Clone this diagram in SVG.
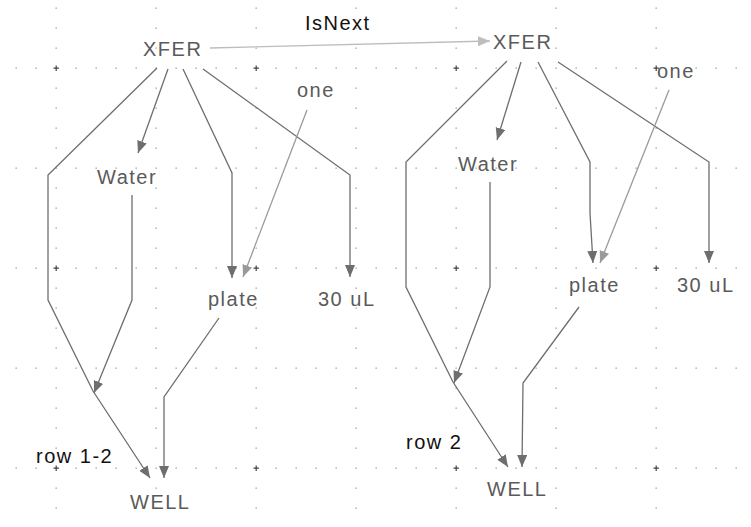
<svg xmlns="http://www.w3.org/2000/svg" width="751" height="527" viewBox="0 0 751 527">
  <defs>
    <style>
      .node { font-family: "Liberation Sans", Arial, sans-serif; font-size: 20px; letter-spacing: 1.5px; fill: #5a5a5a; }
      .lbl { font-family: "Liberation Sans", Arial, sans-serif; font-size: 20px; letter-spacing: 1.5px; fill: #111; }
      .e { fill: none; stroke: #6e6e6e; stroke-width: 1.3; marker-end: url(#ah); }
      .e2 { fill: none; stroke: #9a9a9a; stroke-width: 1.3; marker-end: url(#ah2); }
      .e3 { fill: none; stroke: #bdbdbd; stroke-width: 1.3; marker-end: url(#ah3); }
      .cross { stroke: #444; stroke-width: 1.2; }
    </style>
    <marker id="ah" markerUnits="userSpaceOnUse" markerWidth="13" markerHeight="11" refX="12" refY="5" orient="auto" viewBox="0 0 13 11">
      <path d="M0,0 L12,5 L0,10 Z" fill="#6e6e6e"/>
    </marker>
    <marker id="ah2" markerUnits="userSpaceOnUse" markerWidth="13" markerHeight="11" refX="12" refY="5" orient="auto" viewBox="0 0 13 11">
      <path d="M0,0 L12,5 L0,10 Z" fill="#9a9a9a"/>
    </marker>
    <marker id="ah3" markerUnits="userSpaceOnUse" markerWidth="13" markerHeight="11" refX="12" refY="5" orient="auto" viewBox="0 0 13 11">
      <path d="M0,0 L12,5 L0,10 Z" fill="#bdbdbd"/>
    </marker>
    <pattern id="dots" patternUnits="userSpaceOnUse" x="0" y="0" width="100" height="100">
      <g fill="#9a9a9a">
        <rect x="15.5" y="67.5" width="1.3" height="1.3"/>
        <rect x="35.5" y="67.5" width="1.3" height="1.3"/>
        <rect x="55.5" y="67.5" width="1.3" height="1.3"/>
        <rect x="75.5" y="67.5" width="1.3" height="1.3"/>
        <rect x="95.5" y="67.5" width="1.3" height="1.3"/>
        <rect x="55.5" y="7.5" width="1.3" height="1.3"/>
        <rect x="55.5" y="27.5" width="1.3" height="1.3"/>
        <rect x="55.5" y="47.5" width="1.3" height="1.3"/>
        <rect x="55.5" y="87.5" width="1.3" height="1.3"/>
      </g>
    </pattern>
    <pattern id="crosses" patternUnits="userSpaceOnUse" x="0" y="0" width="200" height="200">
      <path class="cross" d="M53.5,68.2 H58.9 M56.2,65.5 V70.9"/>
    </pattern>
  </defs>

  <rect width="751" height="527" fill="#ffffff"/>
  <g id="grid">
    <rect x="0" y="0" width="751" height="527" fill="url(#dots)"/>
    <rect x="0" y="0" width="751" height="527" fill="url(#crosses)"/>
  </g>

  <g id="connectors">
    <!-- left graph -->
    <path class="e3" d="M210,48 L490,41"/>
    <path class="e" d="M168,69 L138,153"/>
    <path class="e" d="M157,68 L48,175 L48,300 L93,391 L150,478"/>
    <path class="e" d="M132,195 L132,300 L94,393"/>
    <path class="e" d="M183,69 L232,173 L232,278"/>
    <path class="e" d="M203,69 L350,175 L350,277"/>
    <path class="e2" d="M307,110 L243,277"/>
    <path class="e" d="M219,318 L164,397 L164,478"/>
    <!-- right graph -->
    <path class="e" d="M521,62 L497,140"/>
    <path class="e" d="M507,61 L406,162 L406,287 L453,382 L508,467"/>
    <path class="e" d="M490,182 L490,287 L454,383"/>
    <path class="e" d="M538,62 L590,162 L590,213 L593,263"/>
    <path class="e" d="M558,62 L709,162 L709,263"/>
    <path class="e2" d="M669,90 L600,263"/>
    <path class="e" d="M579,307 L523,383 L522,467"/>
  </g>

  <g id="edge-labels">
    <text class="lbl" x="305" y="30">IsNext</text>
    <text class="lbl" x="36" y="463">row 1-2</text>
    <text class="lbl" x="406" y="449">row 2</text>
  </g>

  <g id="xfer1"><text class="node" x="143" y="56">XFER</text></g>
  <g id="water1"><text class="node" x="97" y="184">Water</text></g>
  <g id="one1"><text class="node" x="297" y="97">one</text></g>
  <g id="plate1"><text class="node" x="208" y="306">plate</text></g>
  <g id="vol1"><text class="node" x="318" y="306">30 uL</text></g>
  <g id="well1"><text class="node" x="130" y="509">WELL</text></g>

  <g id="xfer2"><text class="node" x="493" y="49">XFER</text></g>
  <g id="water2"><text class="node" x="458" y="171">Water</text></g>
  <g id="one2"><text class="node" x="657" y="78">one</text></g>
  <g id="plate2"><text class="node" x="569" y="292">plate</text></g>
  <g id="vol2"><text class="node" x="677" y="292">30 uL</text></g>
  <g id="well2"><text class="node" x="487" y="496">WELL</text></g>
</svg>
